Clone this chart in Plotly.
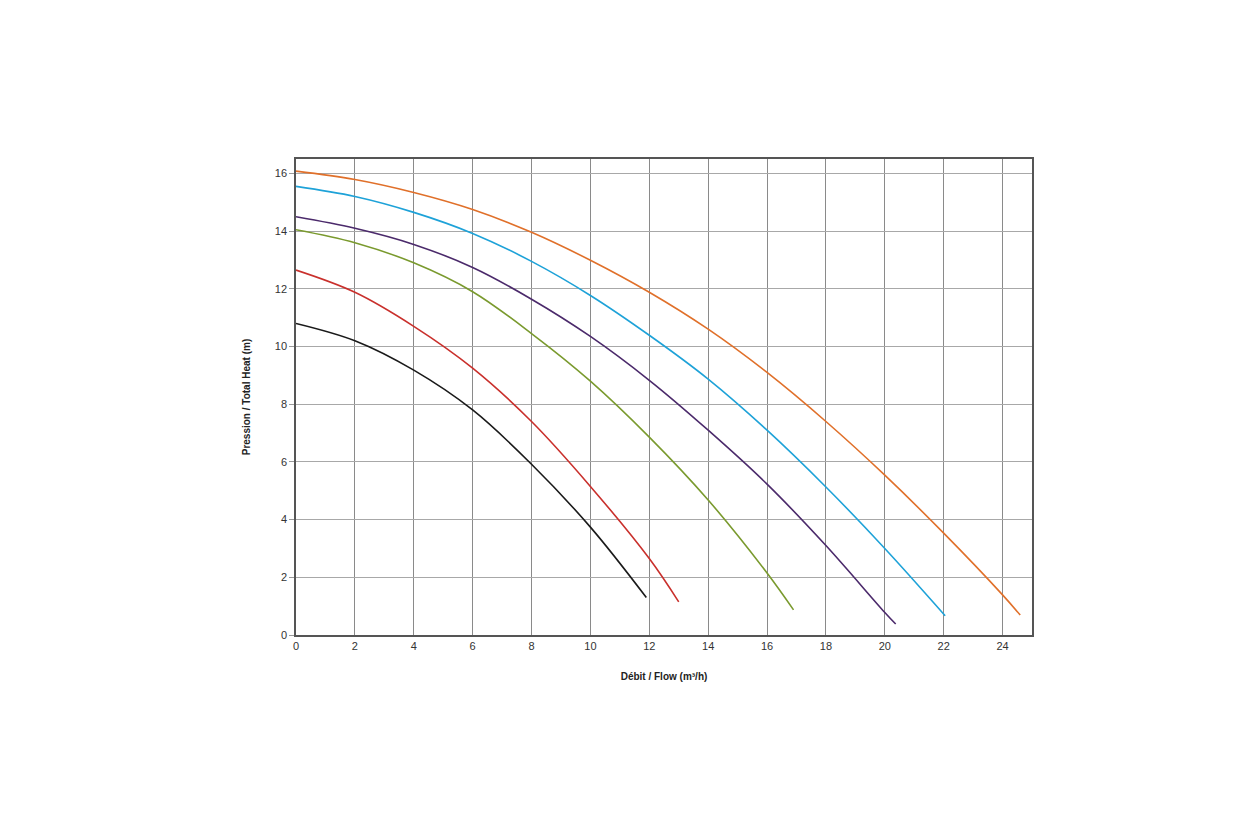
import plotly.graph_objects as go

flow_black = [0, 2, 4, 6, 8, 10, 11.9]
head_black = [10.8, 10.2, 9.18, 7.8, 5.92, 3.74, 1.3]

flow_red = [0, 2, 4, 6, 8, 10, 12, 13.0]
head_red = [12.65, 11.88, 10.7, 9.25, 7.4, 5.15, 2.65, 1.15]

flow_green = [0, 2, 4, 6, 8, 10, 12, 14, 16, 16.9]
head_green = [14.05, 13.6, 12.9, 11.9, 10.45, 8.8, 6.86, 4.68, 2.15, 0.87]

flow_purple = [0, 2, 4, 6, 8, 10, 12, 14, 16, 18, 20, 20.37]
head_purple = [14.5, 14.1, 13.54, 12.74, 11.64, 10.35, 8.83, 7.1, 5.23, 3.1, 0.78, 0.38]

flow_blue = [0, 2, 4, 6, 8, 10, 12, 14, 16, 18, 20, 22.05]
head_blue = [15.55, 15.2, 14.65, 13.92, 12.95, 11.77, 10.39, 8.87, 7.1, 5.13, 3.0, 0.67]

flow_orange = [0, 2, 4, 6, 8, 10, 12, 14, 16, 18, 20, 22, 24, 24.6]
head_orange = [16.08, 15.79, 15.34, 14.75, 13.96, 12.99, 11.88, 10.6, 9.1, 7.4, 5.54, 3.53, 1.39, 0.69]

series = [
    (flow_black, head_black, "#1a1a1a"),
    (flow_red, head_red, "#c9302c"),
    (flow_green, head_green, "#7a9a2e"),
    (flow_purple, head_purple, "#4b2a6b"),
    (flow_blue, head_blue, "#1ea2d8"),
    (flow_orange, head_orange, "#e0702a"),
]

x_ticks = list(range(0, 25, 2))
y_ticks = list(range(0, 17, 2))

fig = go.Figure()
for xs, ys, c in series:
    fig.add_trace(go.Scatter(x=xs, y=ys, mode="lines",
                             line=dict(color=c, width=1.6, shape="spline", smoothing=1.0),
                             showlegend=False, hoverinfo="skip"))

fig.update_layout(
    width=1260, height=840,
    margin=dict(l=296, r=228, t=159, b=205),
    paper_bgcolor="white", plot_bgcolor="white",
    font=dict(family="Liberation Sans, Arial, sans-serif", color="#222", size=11),
)
fig.update_xaxes(
    range=[0, 25], tickvals=x_ticks, ticktext=[str(v) for v in x_ticks],
    showgrid=True, gridcolor="#8a8a8a", gridwidth=1,
    showline=True, linecolor="#555", linewidth=1.5, mirror=True,
    zeroline=False, ticks="", tickfont=dict(size=11, color="#333"),
    title=dict(text="<b>Débit / Flow (m³/h)</b>", font=dict(size=10, color="#222"), standoff=22),
)
fig.update_yaxes(
    range=[0, 16.5], tickvals=y_ticks, ticktext=[str(v) for v in y_ticks],
    showgrid=True, gridcolor="#a8a8a8", gridwidth=1,
    showline=True, linecolor="#555", linewidth=1.5, mirror=True,
    zeroline=False, ticks="outside", ticklen=5, tickcolor="#999",
    tickfont=dict(size=11, color="#333"),
    title=dict(text="<b>Pression / Total Heat (m)</b>", font=dict(size=10, color="#222"), standoff=22),
)

fig.write_html("out.html")
